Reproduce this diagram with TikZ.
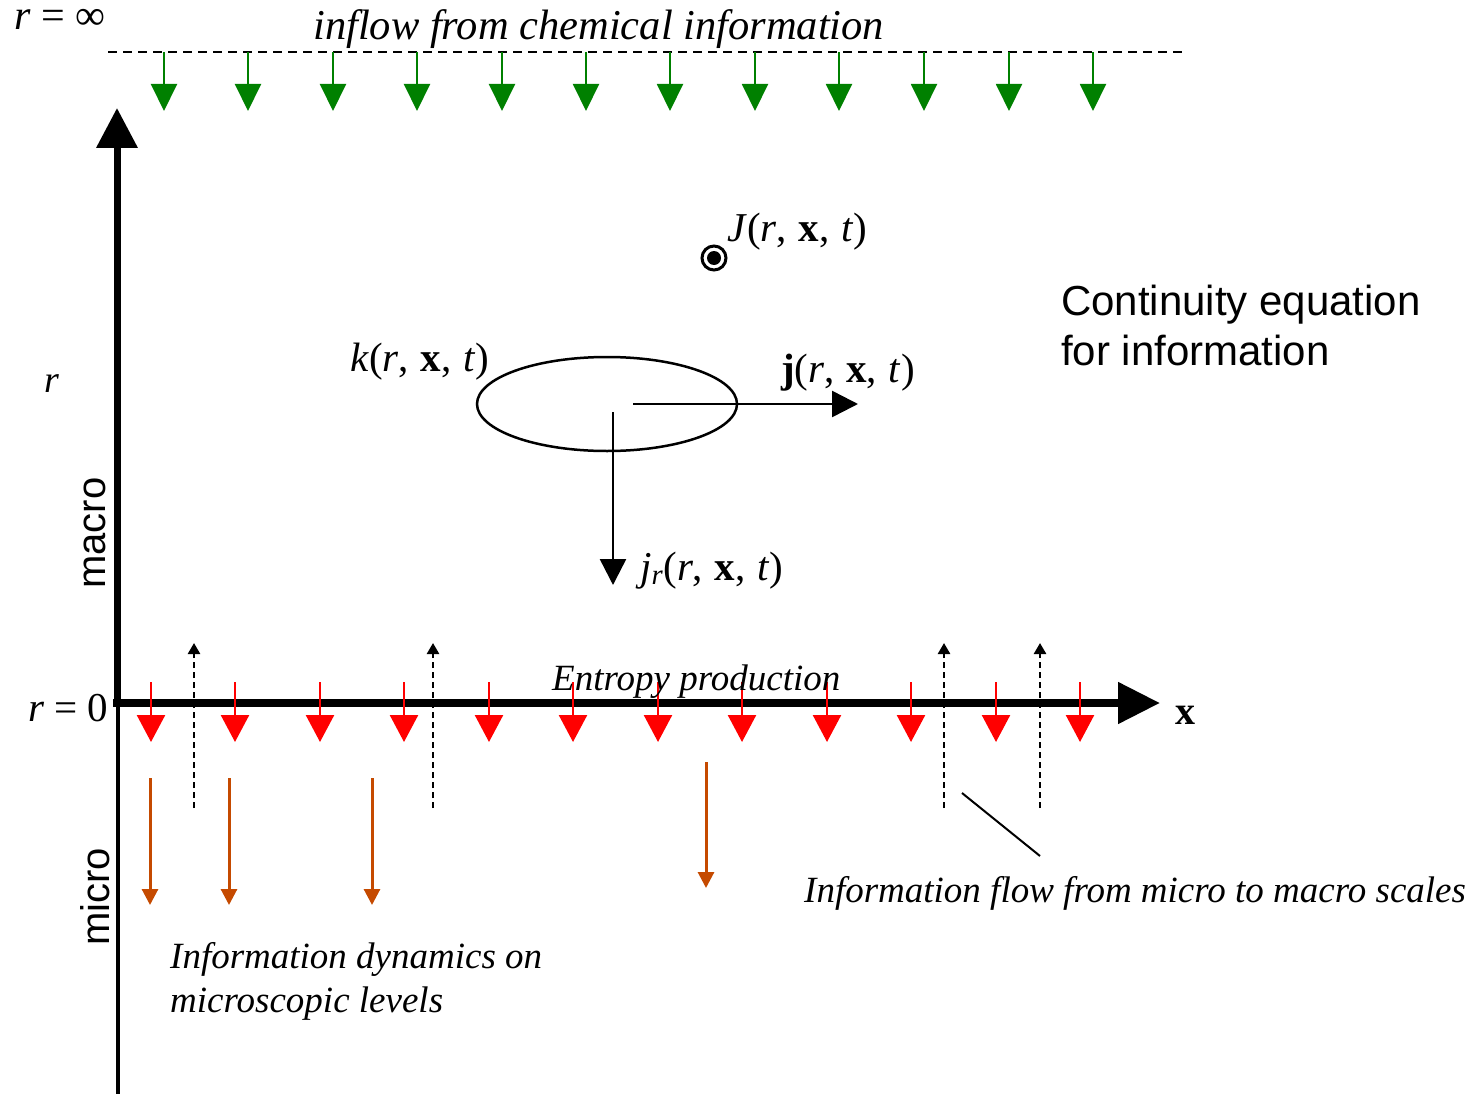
\documentclass[tikz,border=0pt]{standalone}
\usepackage{fontspec}
\setmainfont{Liberation Serif}
\newfontfamily\arialfont{Liberation Sans}
\usetikzlibrary{arrows.meta,shapes.geometric}
\definecolor{gr}{RGB}{0,128,0}
\definecolor{rd}{RGB}{255,0,0}
\definecolor{og}{RGB}{197,74,0}
\newcommand{\mysp}{\hspace{1.5pt}}
\tikzset{
  lbl/.style={inner sep=0pt, anchor=base west, font=\fontsize{41}{46}\selectfont},
  itl/.style={inner sep=0pt, anchor=base west, font=\fontsize{37}{44}\itshape\selectfont},
  sans/.style={inner sep=0pt, font=\fontsize{42}{50}\arialfont\selectfont},
  greenarr/.style={draw=gr, line width=2pt, -{Triangle[width=26pt,length=27pt]}, gr},
  redarr/.style={draw=rd, line width=2.5pt, -{Triangle[width=28pt,length=27pt]}, rd},
  orangearr/.style={draw=og, line width=3pt, -{Triangle[width=16pt,length=16pt]}, og},
  dotarr/.style={draw=black, line width=2.5pt, dash pattern=on 6pt off 4pt, -{Triangle[width=12pt,length=11pt]}},
  flowarr/.style={draw=black, line width=2.5pt, -{Triangle[width=26pt,length=26pt]}},
  axis/.style={draw=black, line cap=butt}
}
\begin{document}
\begin{tikzpicture}[x=1pt,y=-1pt]
\useasboundingbox (0,0) rectangle (1477,1094);
% top dashed line
\coordinate (topL) at (108,52);
\coordinate (topR) at (1185,52);
\draw[line width=1.5pt, dash pattern=on 9pt off 6pt] (topL) -- (topR);
\node[lbl, font=\fontsize{42}{44}\selectfont] (rinf) at (14,30) {\textit{r} = ∞};
\node[lbl, font=\fontsize{42.5}{46}\itshape\selectfont] (inflow) at (313,40) {inflow from chemical information};
% green arrows
\foreach \x [count=\i] in {164,248,333,417,502,586,670,755,839,924,1009,1093}{
  \coordinate (g\i s) at (\x,52);
  \coordinate (g\i e) at (\x,111);
  \draw[greenarr] (g\i s) -- (g\i e);
}
% axes
\coordinate (origin) at (117,703);
\coordinate (rtop) at (117,108);
\coordinate (rbot) at (118,1094);
\coordinate (rmid) at (118,700);
\coordinate (xorig) at (113,703);
\coordinate (xend) at (1160,703);
\draw[axis, line width=4pt] (rmid) -- (rbot);
\draw[axis, line width=7pt, -{Triangle[width=40pt,length=40pt]}] (origin) -- (rtop);
\draw[axis, line width=8pt, -{Triangle[width=40pt,length=42pt]}] (xorig) -- (xend);
\node[lbl, font=\fontsize{40}{44}\bfseries\selectfont] (xlab) at (1175,724) {x};
\node[lbl, font=\fontsize{41}{44}\selectfont] (r0) at (28,721) {\textit{r} = 0};
\node[lbl, font=\fontsize{38}{44}\itshape\selectfont] (rlab) at (44,392) {r};
\node[sans, rotate=90, font=\fontsize{40}{48}\arialfont\selectfont] (macro) at (95,533) {macro};
\node[sans, rotate=90, font=\fontsize{40}{48}\arialfont\selectfont] (micro) at (95,897) {micro};
% red arrows
\foreach \x [count=\i] in {151,235,320,404,489,573,658,742,827,911,996,1080}{
  \coordinate (r\i s) at (\x,682);
  \coordinate (r\i e) at (\x,742);
  \draw[redarr] (r\i s) -- (r\i e);
}
% dotted arrows
\foreach \x [count=\i] in {194,433,944,1040}{
  \coordinate (d\i s) at (\x,808);
  \coordinate (d\i e) at (\x,643);
  \draw[dotarr] (d\i s) -- (d\i e);
}
% orange arrows
\foreach \x [count=\i] in {150,229,372}{
  \coordinate (o\i s) at (\x,778);
  \coordinate (o\i e) at (\x,905);
  \draw[orangearr] (o\i s) -- (o\i e);
}
\coordinate (o4s) at (706,762);
\coordinate (o4e) at (706,888);
\draw[orangearr] (o4s) -- (o4e);
% ellipse and fluxes
\node[draw, line width=2.5pt, ellipse, minimum width=260pt, minimum height=94pt, inner sep=0pt] (ell) at (607,404) {};
\coordinate (jxs) at (633,404);
\coordinate (jxe) at (858,404);
\draw[flowarr] (jxs) -- (jxe);
\coordinate (jrs) at (613,412);
\coordinate (jre) at (613,585);
\draw[flowarr] (jrs) -- (jre);
\node[lbl] (klab) at (350,371) {\textit{k}(\textit{r}, \mysp\textbf{x}, \mysp\textit{t})};
\node[lbl] (jlab) at (781,382) {\textbf{j}(\textit{r}, \mysp\textbf{x}, \mysp\textit{t})};
\node[lbl] (jrlab) at (640,580) {\textit{j}\textsubscript{\textit{r}}(\textit{r}, \mysp\textbf{x}, \mysp\textit{t})};
% J symbol
\node[draw, circle, line width=3pt, minimum size=24pt, inner sep=0pt] (Jc) at (714,258) {};
\fill (Jc.center) circle (7);
\node[lbl] (Jlab) at (727,241) {\textit{J}(\textit{r}, \mysp\textbf{x}, \mysp\textit{t})};
% continuity text
\node[sans, anchor=base west, align=left] (cont) at (1061,365) {Continuity equation\\for information};
% entropy production
\node[itl, font=\fontsize{37}{44}\itshape\selectfont] (entropy) at (552,690) {Entropy production};
% pointer line
\coordinate (p1) at (962,793);
\coordinate (p2) at (1040,856);
\draw[line width=2pt] (p1) -- (p2);
\node[itl] (flowtxt) at (804,902) {Information flow from micro to macro scales};
\node[itl] (dyn1) at (170,968) {Information dynamics on};
\node[itl] (dyn2) at (170,1012) {microscopic levels};
\end{tikzpicture}
\end{document}
